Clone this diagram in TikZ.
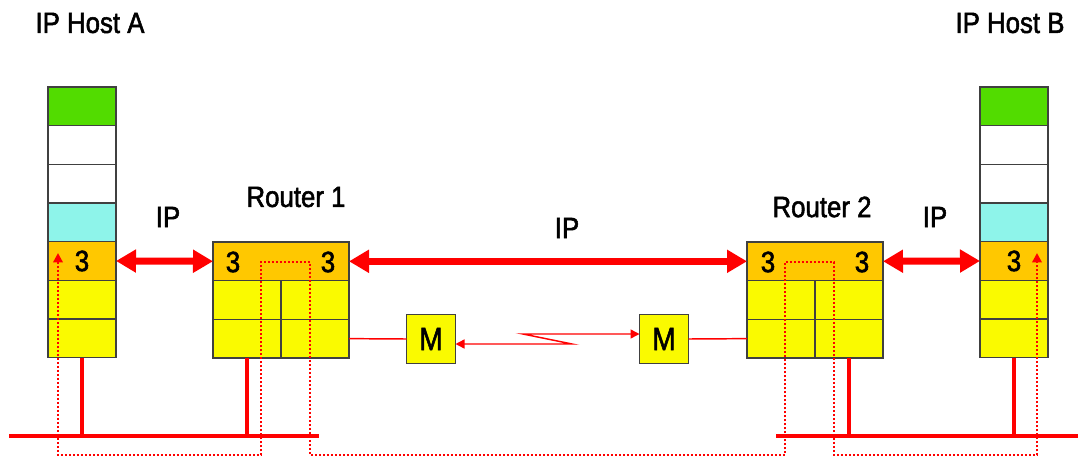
\documentclass[tikz,border=0pt]{standalone}
\usepackage{fontspec}
\setmainfont{Liberation Sans}[FakeStretch=0.88, FakeBold=1.8]
\usepackage{xcolor}
\definecolor{layerGreen}{HTML}{52DC00}
\definecolor{layerCyan}{HTML}{8EF4EA}
\definecolor{layerOrange}{HTML}{FFC800}
\definecolor{layerYellow}{HTML}{FAFA00}
\definecolor{linkRed}{HTML}{FF0000}
\usepackage{tikz}
\usetikzlibrary{arrows.meta, positioning, calc}

\begin{document}
\begin{tikzpicture}[
    x=0.75pt, y=-0.75pt,
    every node/.style={outer sep=0pt, inner sep=0pt},
    layer/.style={draw=black!75, line width=0.8pt, minimum width=51pt, minimum height=29pt, font=\fontsize{22pt}{24pt}\selectfont},
    hostTop/.style={layer, fill=layerGreen},
    hostMid/.style={layer, fill=white},
    hostApp/.style={layer, fill=layerCyan},
    netLayer/.style={layer, fill=layerOrange},
    lowLayer/.style={layer, fill=layerYellow},
    routerNet/.style={netLayer, minimum width=102pt},
    modemBox/.style={layer, fill=layerYellow, minimum width=36.75pt, minimum height=36.75pt, font=\fontsize{24pt}{26pt}\selectfont},
    num/.style={font=\fontsize{22pt}{24pt}\selectfont},
    lbl/.style={font=\fontsize{22pt}{26pt}\selectfont},
    % Link styles
    ipLink/.style={draw=linkRed, line width=5.25pt, {Triangle[length=15pt, width=16.5pt]}-{Triangle[length=15pt, width=16.5pt]}},
    busLine/.style={draw=linkRed, line width=3pt},
    serialLine/.style={draw=linkRed, line width=1.1pt, {Triangle[length=6.75pt, width=6.75pt]}-{Triangle[length=6.75pt, width=6.75pt]}},
    pathLine/.style={draw=linkRed, line width=1.8pt, dash pattern=on 1.5pt off 1.5pt, {Triangle[length=7pt, width=7pt]}-{Triangle[length=7pt, width=7pt]}}
]
    \useasboundingbox (0,0) rectangle (1078,457);

    % Host A stack
    \node (hA1) [hostTop] at (82,106.3) {};
    \node (hA2) [hostMid, below=0pt of hA1] {};
    \node (hA3) [hostMid, below=0pt of hA2] {};
    \node (hA4) [hostApp, below=0pt of hA3] {};
    \node (hA5) [netLayer, below=0pt of hA4] {3};
    \node (hA6) [lowLayer, below=0pt of hA5] {};
    \node (hA7) [lowLayer, below=0pt of hA6] {};

    % Host B stack
    \node (hB1) [hostTop] at (1014,106.3) {};
    \node (hB2) [hostMid, below=0pt of hB1] {};
    \node (hB3) [hostMid, below=0pt of hB2] {};
    \node (hB4) [hostApp, below=0pt of hB3] {};
    \node (hB5) [netLayer, below=0pt of hB4] {3};
    \node (hB6) [lowLayer, below=0pt of hB5] {};
    \node (hB7) [lowLayer, below=0pt of hB6] {};

    % Router 1
    \node (r1net) [routerNet] at (281,261.3) {};
    \node (r1c1) [lowLayer, anchor=north west] at (r1net.south west) {};
    \node (r1c2) [lowLayer, right=0pt of r1c1] {};
    \node (r1c3) [lowLayer, below=0pt of r1c1] {};
    \node (r1c4) [lowLayer, right=0pt of r1c3] {};
    \node (r1l) [num] at (233,262) {3};
    \node (r1r) [num] at (328,262) {3};

    % Router 2
    \node (r2net) [routerNet] at (815,261.3) {};
    \node (r2c1) [lowLayer, anchor=north west] at (r2net.south west) {};
    \node (r2c2) [lowLayer, right=0pt of r2c1] {};
    \node (r2c3) [lowLayer, below=0pt of r2c1] {};
    \node (r2c4) [lowLayer, right=0pt of r2c3] {};
    \node (r2l) [num] at (768,262) {3};
    \node (r2r) [num] at (862,262) {3};

    % Modems
    \node (m1) [modemBox] at (431,339) {M};
    \node (m2) [modemBox] at (664,339) {M};

    % Labels
    \node (tA) [lbl] at (90,23) {IP Host A};
    \node (tB) [lbl] at (1010,23) {IP Host B};
    \node (tR1) [lbl] at (296,197) {Router 1};
    \node (tR2) [lbl] at (822,207) {Router 2};
    \node (ipA) [lbl] at (168,217) {IP};
    \node (ipM) [lbl] at (567,228) {IP};
    \node (ipB) [lbl] at (935,217) {IP};

    % IP links
    \draw [ipLink] (hA5.east) -- (r1net.west);
    \draw [ipLink] (r1net.east) -- (r2net.west);
    \draw [ipLink] (r2net.east) -- (hB5.west);

    % Serial line with modems
    \coordinate (z1) at (572,344);
    \coordinate (z2) at (523,334);
    \draw [draw=linkRed, line width=1.1pt] (r1c4.east) -- (m1.west);
    \draw [draw=linkRed, line width=1.1pt] (m2.east) -- (r2c3.west);
    \draw [serialLine] (z1 -| m1.east) -- (z1) -- (z2) -- (z2 -| m2.west);

    % LAN buses
    \coordinate (busAw) at (9,436);
    \coordinate (busAe) at (319,436);
    \coordinate (busBw) at (776,436);
    \coordinate (busBe) at (1078,436);
    \draw [busLine] (busAw) -- (busAe);
    \draw [busLine] (busBw) -- (busBe);
    \draw [busLine] (hA7.south) -- (hA7.south |- busAw);
    \draw [busLine] (r1c3.south) -- (r1c3.south |- busAw);
    \draw [busLine] (r2c4.south) -- (r2c4.south |- busBw);
    \draw [busLine] (hB7.south) -- (hB7.south |- busBw);

    % Packet path
    \coordinate (pathA) at (58,253);
    \coordinate (pathB) at (1037,253);
    \coordinate (pathLow) at (0,455);
    \draw [pathLine] (pathA) -- (pathA |- pathLow) -| (261,262) -| (310,455) -| (785,262) -| (834,455) -| (pathB);
\end{tikzpicture}
\end{document}
